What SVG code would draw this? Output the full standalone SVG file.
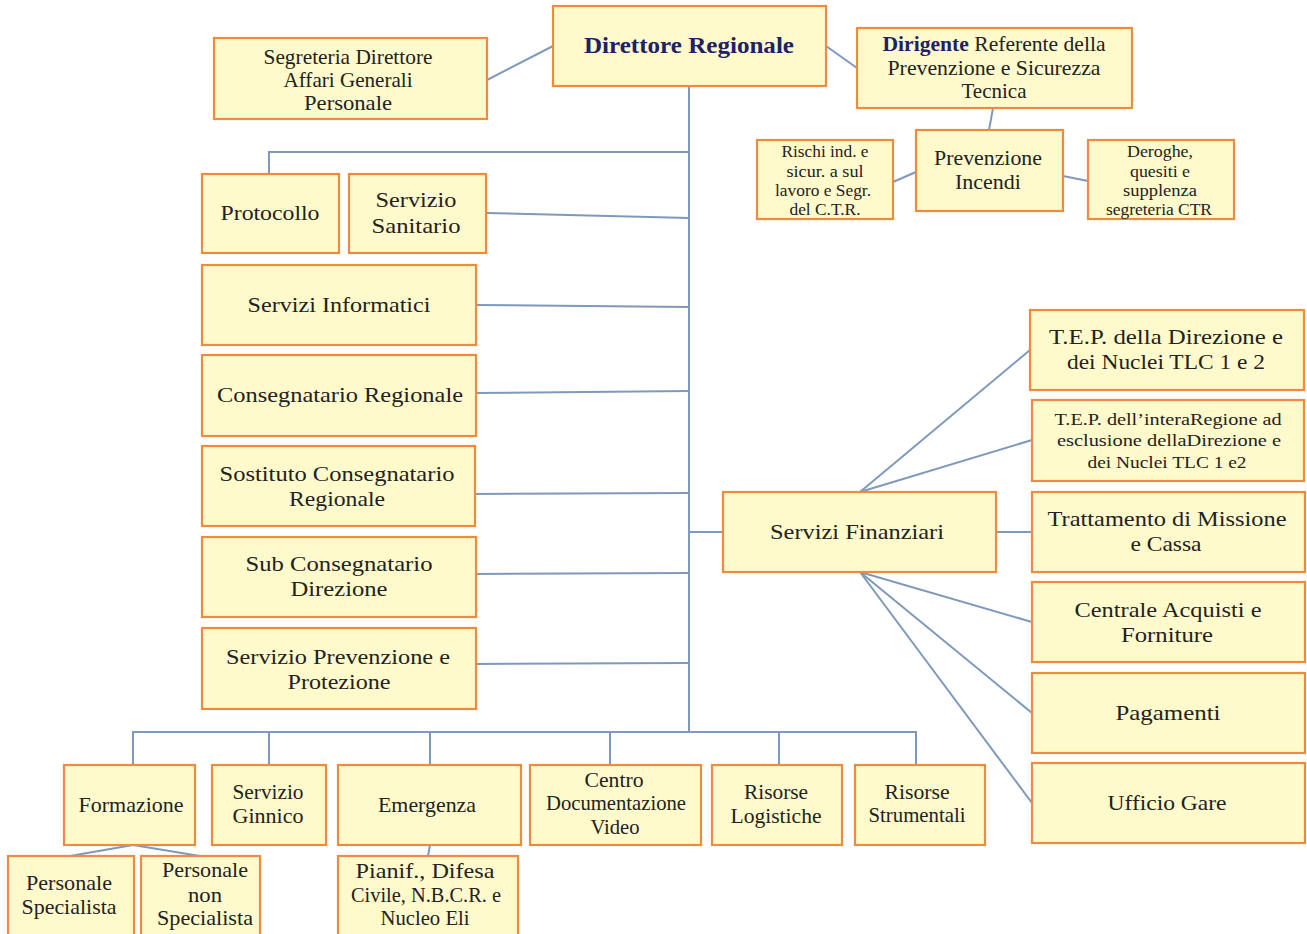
<svg xmlns="http://www.w3.org/2000/svg" width="1307" height="934" viewBox="0 0 1307 934">
<style>
.b{fill:#FFFACB;stroke:#EF8B3F;stroke-width:2.2}
.c line,.c path{stroke:#7F99BC;stroke-width:2;fill:none}
text{font-family:"Liberation Serif","Times New Roman",serif;font-size:21px;fill:#222;text-anchor:middle;dominant-baseline:central}
.s{font-size:16px}
.t{font-weight:bold;fill:#1E2166;font-size:23px}
</style>
<rect width="1307" height="934" fill="#fff"/>
<g class="c">
<line x1="689" y1="86" x2="689" y2="732"/>
<line x1="487" y1="80" x2="553" y2="46"/>
<line x1="826" y1="46" x2="857" y2="68"/>
<line x1="993" y1="108" x2="989" y2="130"/>
<line x1="893" y1="182" x2="916" y2="172"/>
<line x1="1063" y1="176" x2="1088" y2="181"/>
<path d="M689 152H269V174"/>
<line x1="486" y1="213" x2="689" y2="218"/>
<line x1="476" y1="305" x2="689" y2="307"/>
<line x1="476" y1="393" x2="689" y2="391"/>
<line x1="475" y1="494" x2="689" y2="493"/>
<line x1="476" y1="574" x2="689" y2="573"/>
<line x1="476" y1="664" x2="689" y2="663"/>
<line x1="689" y1="532" x2="723" y2="532"/>
<path d="M133 765V732H916V765M269 732V765M430 732V765M610 732V765M779 732V765"/>
<line x1="133" y1="845" x2="70" y2="856"/>
<line x1="133" y1="845" x2="200" y2="856"/>
<line x1="430" y1="845" x2="428" y2="856"/>
<line x1="996" y1="532" x2="1032" y2="532"/>
<line x1="860" y1="492" x2="1030" y2="350"/>
<line x1="860" y1="492" x2="1032" y2="440"/>
<line x1="860" y1="572" x2="1032" y2="622"/>
<line x1="860" y1="572" x2="1032" y2="713"/>
<line x1="860" y1="572" x2="1032" y2="803"/>
</g>
<g id="direttore"><rect class="b" x="553" y="6" width="273" height="80"/><text class="t" x="689" y="45" textLength="210" lengthAdjust="spacingAndGlyphs">Direttore Regionale</text></g>
<g id="segreteria"><rect class="b" x="214" y="38" width="273" height="81"/>
<text x="348" y="57" textLength="169" lengthAdjust="spacingAndGlyphs">Segreteria Direttore</text>
<text x="348" y="80" textLength="129" lengthAdjust="spacingAndGlyphs">Affari Generali</text>
<text x="348" y="103" textLength="88" lengthAdjust="spacingAndGlyphs">Personale</text></g>
<g id="dirigente"><rect class="b" x="857" y="28" width="275" height="80"/>
<text x="994" y="44" textLength="223" lengthAdjust="spacingAndGlyphs"><tspan font-weight="bold" fill="#1E2166">Dirigente</tspan> Referente della</text>
<text x="994" y="68" textLength="213" lengthAdjust="spacingAndGlyphs">Prevenzione e Sicurezza</text>
<text x="994" y="91" textLength="65" lengthAdjust="spacingAndGlyphs">Tecnica</text></g>
<g id="prevenzione-incendi"><rect class="b" x="916" y="130" width="147" height="81"/>
<text x="988" y="158" textLength="108" lengthAdjust="spacingAndGlyphs">Prevenzione</text>
<text x="988" y="182" textLength="66" lengthAdjust="spacingAndGlyphs">Incendi</text></g>
<g id="rischi"><rect class="b" x="757" y="140" width="136" height="79"/>
<text class="s" x="825" y="151" textLength="87" lengthAdjust="spacingAndGlyphs">Rischi ind. e</text>
<text class="s" x="825" y="171" textLength="77" lengthAdjust="spacingAndGlyphs">sicur. a sul</text>
<text class="s" x="823" y="190" textLength="96" lengthAdjust="spacingAndGlyphs">lavoro e Segr.</text>
<text class="s" x="825" y="209" textLength="71" lengthAdjust="spacingAndGlyphs">del C.T.R.</text></g>
<g id="deroghe"><rect class="b" x="1088" y="140" width="146" height="79"/>
<text class="s" x="1160" y="151" textLength="66" lengthAdjust="spacingAndGlyphs">Deroghe,</text>
<text class="s" x="1160" y="171" textLength="60" lengthAdjust="spacingAndGlyphs">quesiti e</text>
<text class="s" x="1160" y="190" textLength="74" lengthAdjust="spacingAndGlyphs">supplenza</text>
<text class="s" x="1159" y="209" textLength="106" lengthAdjust="spacingAndGlyphs">segreteria CTR</text></g>
<g id="protocollo"><rect class="b" x="202" y="174" width="137" height="79"/>
<text x="270" y="213" textLength="99" lengthAdjust="spacingAndGlyphs">Protocollo</text></g>
<g id="servizio-sanitario"><rect class="b" x="349" y="174" width="137" height="79"/>
<text x="416" y="200" textLength="81" lengthAdjust="spacingAndGlyphs">Servizio</text>
<text x="416" y="226" textLength="89" lengthAdjust="spacingAndGlyphs">Sanitario</text></g>
<g id="servizi-informatici"><rect class="b" x="202" y="265" width="274" height="80"/>
<text x="339" y="305" textLength="183" lengthAdjust="spacingAndGlyphs">Servizi Informatici</text></g>
<g id="consegnatario"><rect class="b" x="202" y="355" width="274" height="81"/>
<text x="340" y="395" textLength="246" lengthAdjust="spacingAndGlyphs">Consegnatario Regionale</text></g>
<g id="sostituto"><rect class="b" x="202" y="446" width="273" height="80"/>
<text x="337" y="474" textLength="235" lengthAdjust="spacingAndGlyphs">Sostituto Consegnatario</text>
<text x="337" y="499" textLength="96" lengthAdjust="spacingAndGlyphs">Regionale</text></g>
<g id="sub-consegnatario"><rect class="b" x="202" y="537" width="274" height="80"/>
<text x="339" y="564" textLength="187" lengthAdjust="spacingAndGlyphs">Sub Consegnatario</text>
<text x="339" y="589" textLength="97" lengthAdjust="spacingAndGlyphs">Direzione</text></g>
<g id="spp"><rect class="b" x="202" y="628" width="274" height="81"/>
<text x="338" y="657" textLength="224" lengthAdjust="spacingAndGlyphs">Servizio Prevenzione e</text>
<text x="339" y="682" textLength="103" lengthAdjust="spacingAndGlyphs">Protezione</text></g>
<g id="servizi-finanziari"><rect class="b" x="723" y="492" width="273" height="80"/>
<text x="857" y="532" textLength="174" lengthAdjust="spacingAndGlyphs">Servizi Finanziari</text></g>
<g id="tep1"><rect class="b" x="1030" y="310" width="274" height="80"/>
<text x="1166" y="337" textLength="234" lengthAdjust="spacingAndGlyphs">T.E.P.  della Direzione e</text>
<text x="1166" y="362" textLength="198" lengthAdjust="spacingAndGlyphs">dei Nuclei TLC 1 e 2</text></g>
<g id="tep2"><rect class="b" x="1032" y="400" width="272" height="81"/>
<text class="s" x="1168" y="419" textLength="227" lengthAdjust="spacingAndGlyphs">T.E.P. dell’interaRegione ad</text>
<text class="s" x="1169" y="440" textLength="224" lengthAdjust="spacingAndGlyphs">esclusione dellaDirezione e</text>
<text class="s" x="1167" y="462" textLength="159" lengthAdjust="spacingAndGlyphs">dei Nuclei TLC 1 e2</text></g>
<g id="trattamento"><rect class="b" x="1032" y="492" width="273" height="80"/>
<text x="1167" y="519" textLength="239" lengthAdjust="spacingAndGlyphs">Trattamento di Missione</text>
<text x="1166" y="544" textLength="71" lengthAdjust="spacingAndGlyphs">e Cassa</text></g>
<g id="centrale"><rect class="b" x="1032" y="582" width="273" height="80"/>
<text x="1168" y="610" textLength="187" lengthAdjust="spacingAndGlyphs">Centrale Acquisti e</text>
<text x="1167" y="635" textLength="92" lengthAdjust="spacingAndGlyphs">Forniture</text></g>
<g id="pagamenti"><rect class="b" x="1032" y="673" width="273" height="80"/>
<text x="1168" y="713" textLength="105" lengthAdjust="spacingAndGlyphs">Pagamenti</text></g>
<g id="ufficio-gare"><rect class="b" x="1032" y="763" width="273" height="80"/>
<text x="1167" y="803" textLength="119" lengthAdjust="spacingAndGlyphs">Ufficio Gare</text></g>
<g id="formazione"><rect class="b" x="64" y="765" width="131" height="80"/>
<text x="131" y="805" textLength="105" lengthAdjust="spacingAndGlyphs">Formazione</text></g>
<g id="servizio-ginnico"><rect class="b" x="212" y="765" width="114" height="80"/>
<text x="268" y="792" textLength="71" lengthAdjust="spacingAndGlyphs">Servizio</text>
<text x="268" y="816" textLength="71" lengthAdjust="spacingAndGlyphs">Ginnico</text></g>
<g id="emergenza"><rect class="b" x="338" y="765" width="183" height="80"/>
<text x="427" y="805" textLength="98" lengthAdjust="spacingAndGlyphs">Emergenza</text></g>
<g id="centro-doc"><rect class="b" x="530" y="765" width="171" height="80"/>
<text x="614" y="780" textLength="59" lengthAdjust="spacingAndGlyphs">Centro</text>
<text x="616" y="803" textLength="140" lengthAdjust="spacingAndGlyphs">Documentazione</text>
<text x="615" y="827" textLength="49" lengthAdjust="spacingAndGlyphs">Video</text></g>
<g id="risorse-logistiche"><rect class="b" x="712" y="765" width="130" height="80"/>
<text x="776" y="792" textLength="64" lengthAdjust="spacingAndGlyphs">Risorse</text>
<text x="776" y="816" textLength="91" lengthAdjust="spacingAndGlyphs">Logistiche</text></g>
<g id="risorse-strumentali"><rect class="b" x="855" y="765" width="130" height="80"/>
<text x="917" y="792" textLength="65" lengthAdjust="spacingAndGlyphs">Risorse</text>
<text x="917" y="815" textLength="97" lengthAdjust="spacingAndGlyphs">Strumentali</text></g>
<g id="personale-specialista"><rect class="b" x="8" y="856" width="126" height="84"/>
<text x="69" y="883" textLength="86" lengthAdjust="spacingAndGlyphs">Personale</text>
<text x="69" y="907" textLength="95" lengthAdjust="spacingAndGlyphs">Specialista</text></g>
<g id="personale-non-specialista"><rect class="b" x="141" y="856" width="119" height="84"/>
<text x="205" y="870" textLength="86" lengthAdjust="spacingAndGlyphs">Personale</text>
<text x="205" y="895" textLength="34" lengthAdjust="spacingAndGlyphs">non</text>
<text x="205" y="918" textLength="96" lengthAdjust="spacingAndGlyphs">Specialista</text></g>
<g id="pianif"><rect class="b" x="338" y="856" width="180" height="84"/>
<text x="425" y="871" textLength="139" lengthAdjust="spacingAndGlyphs">Pianif., Difesa</text>
<text x="426" y="895" textLength="150" lengthAdjust="spacingAndGlyphs">Civile, N.B.C.R. e</text>
<text x="425" y="918" textLength="89" lengthAdjust="spacingAndGlyphs">Nucleo Eli</text></g>
</svg>
